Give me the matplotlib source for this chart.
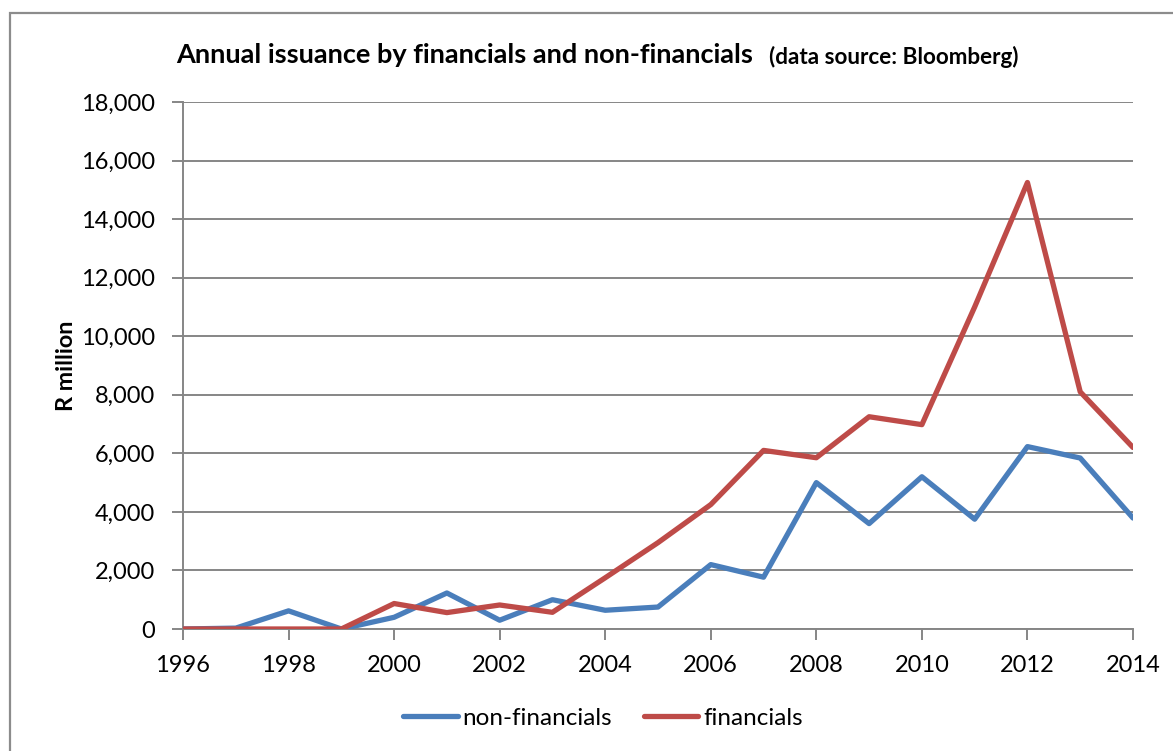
import matplotlib
matplotlib.use("Agg")
import matplotlib.pyplot as plt
from matplotlib.patches import Rectangle
from matplotlib.ticker import FuncFormatter

years = list(range(1996, 2015))
non_financials = [0, 30, 620, 0, 400, 1230, 300, 1000, 640, 750,
                  2200, 1770, 5000, 3600, 5200, 3750, 6230, 5840, 3790]
financials = [0, 0, 0, 0, 870, 560, 820, 570, 1750, 2950,
              4250, 6100, 5850, 7250, 6980, 11000, 15250, 8100, 6200]
y_ticks = list(range(0, 18001, 2000))
x_ticks = list(range(1996, 2015, 2))

plt.rcParams['font.family'] = ['Lato', 'DejaVu Sans']

W, H = 1173, 751
fig = plt.figure(figsize=(W / 100, H / 100), dpi=100)

# chart frame
fig.patches.append(Rectangle((10 / W, -0.1), 1.2, 1 - 13 / H + 0.1,
                             transform=fig.transFigure, fill=False,
                             edgecolor='#8c8c8c', linewidth=1.6))

ax = fig.add_axes([183 / W, 1 - 629 / H, (1133 - 183) / W, (629 - 102) / H])

grid_c = '#868686'
blue = '#4a7ebb'
red = '#be4b48'

ax.plot(years, non_financials, color=blue, linewidth=3.8,
        solid_joinstyle='round', solid_capstyle='round', label='non-financials', zorder=3)
ax.plot(years, financials, color=red, linewidth=3.8,
        solid_joinstyle='round', solid_capstyle='round', label='financials', zorder=4)

ax.set_xlim(1996, 2014)
ax.set_ylim(0, 18000)
ax.set_xticks(x_ticks)
ax.set_yticks(y_ticks)
ax.yaxis.set_major_formatter(FuncFormatter(lambda v, p: f"{int(v):,}"))
ax.grid(axis='y', color=grid_c, linewidth=1.4, zorder=1)
ax.set_axisbelow(True)

for s in ['top', 'right']:
    ax.spines[s].set_visible(False)
for s in ['left', 'bottom']:
    ax.spines[s].set_color(grid_c)
    ax.spines[s].set_linewidth(1.4)

ax.tick_params(axis='both', direction='out', length=8, width=1.4, color=grid_c,
               labelsize=17, labelcolor='black')
ax.tick_params(axis='y', pad=12)
ax.tick_params(axis='x', pad=11)

ax.set_ylabel('R million', fontsize=16.8, fontweight='bold', labelpad=3)

fig.text(176 / W, 1 - 55 / H, 'Annual issuance by financials and non-financials',
         ha='left', va='center', fontsize=19.5, fontweight='bold')
fig.text(769 / W, 1 - 57 / H, '(data source: Bloomberg)',
         ha='left', va='center', fontsize=16.2, fontweight='bold')

leg = fig.legend(loc='center', bbox_to_anchor=(603 / W, 1 - 718 / H), ncol=2,
                 frameon=False, fontsize=17.5, handlelength=2.25, handletextpad=0.2,
                 columnspacing=1.3)

fig.savefig('out.png', dpi=100)
